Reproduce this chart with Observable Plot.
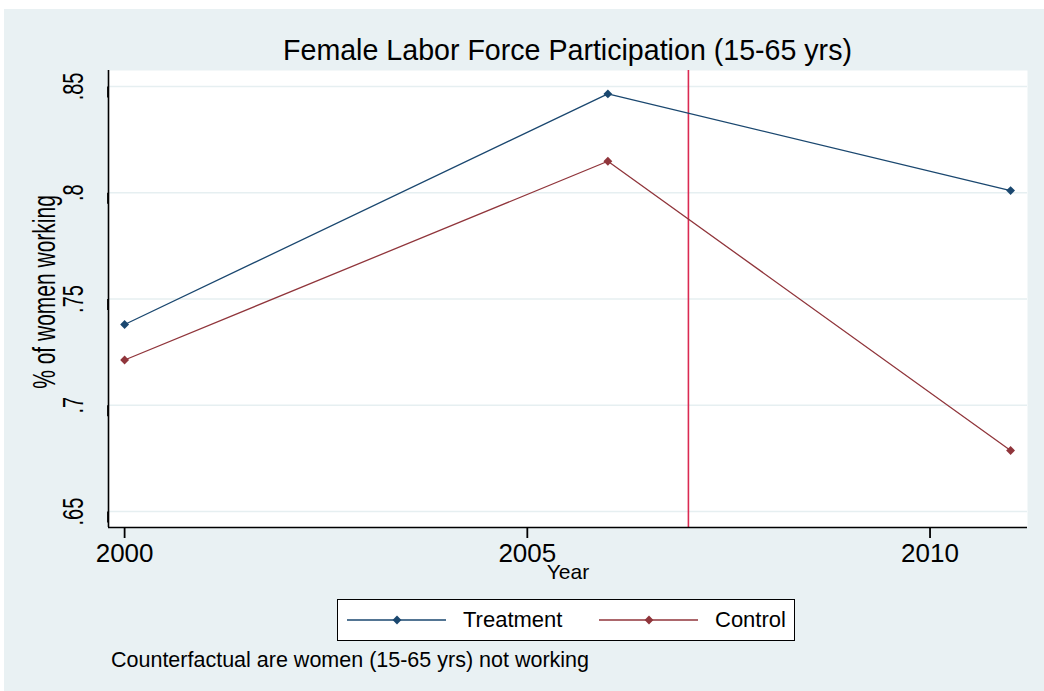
<!DOCTYPE html>
<html>
<head>
<meta charset="utf-8">
<script src="https://cdn.jsdelivr.net/npm/d3@7"></script>
<script src="https://cdn.jsdelivr.net/npm/@observablehq/plot@0.6"></script>
<style>
  body { margin: 0; background: #fff; font-family: "Liberation Sans", Arial, sans-serif; }
  #wrap { position: relative; width: 1044px; height: 691px; overflow: hidden; }
  #bg { position: absolute; left: 4px; top: 9px; right: 0; bottom: 0; background: #e9f1f3; }
  #chart { position: absolute; left: 0; top: 0; }
  .txt { position: absolute; line-height: 1; white-space: nowrap; color: #000; }
  #legendBox { position: absolute; left: 337px; top: 599px; width: 456px; height: 40px; border: 1.5px solid #000; background: #fff; }
</style>
</head>
<body>
<div id="wrap">
  <div id="bg"></div>
  <div id="chart"></div>
  <div id="title" class="txt"></div>
  <div id="legendBox"></div>
  <div id="caption" class="txt"></div>
</div>
<script>
// ---- data ----
const title = "Female Labor Force Participation (15-65 yrs)";
const caption = "Counterfactual are women (15-65 yrs) not working";
const yLabel = "% of women working";
const xLabel = "Year";
const years = [2000, 2006, 2011];
const treatment = [0.738, 0.8465, 0.801];
const control = [0.7213, 0.8148, 0.6787];
const seriesNames = ["Treatment", "Control"];
const seriesColors = ["#1a476f", "#90353b"];
const policyYear = 2007;
const xTicks = [2000, 2005, 2010];
const yTicks = [0.65, 0.7, 0.75, 0.8, 0.85];
const yTickLabels = [".65", ".7", ".75", ".8", ".85"];
const xDomain = [1999.8, 2011.21];
const yDomain = [0.6425, 0.8575];

const data = years.flatMap((yr, i) => [
  {year: yr, value: treatment[i], series: seriesNames[0]},
  {year: yr, value: control[i], series: seriesNames[1]}
]);

const font = "Liberation Sans, Arial, sans-serif";
const plot = Plot.plot({
  width: 1044, height: 691,
  marginTop: 70, marginBottom: 164, marginLeft: 108, marginRight: 17,
  style: {background: "transparent", fontFamily: font, color: "#000", overflow: "visible"},
  x: {domain: xDomain},
  y: {domain: yDomain},
  color: {domain: seriesNames, range: seriesColors},
  marks: [
    Plot.frame({fill: "#fff", stroke: null}),
    Plot.gridY(yTicks, {stroke: "#e6eff1", strokeOpacity: 1, strokeWidth: 1.5}),
    Plot.ruleX([policyYear], {stroke: "#da2a52", strokeWidth: 1.6}),
    Plot.line(data, {x: "year", y: "value", z: "series", stroke: "series", strokeWidth: 1.3}),
    Plot.dot(data, {x: "year", y: "value", fill: "series", symbol: "diamond2", r: 4, stroke: null}),
    Plot.ruleX([xDomain[0]], {stroke: "#000", strokeWidth: 1.6}),
    Plot.ruleY([yDomain[0]], {stroke: "#000", strokeWidth: 1.6}),
    Plot.axisY({ticks: yTicks, tickFormat: d => yTickLabels[yTicks.indexOf(d)], tickSize: 11, tickPadding: 24,
      rotate: -90, textAnchor: "middle", fontSize: 20, label: null, stroke: "#000", strokeWidth: 1.8}),
    Plot.axisX({ticks: xTicks, tickFormat: d => String(d), tickSize: 11, tickPadding: 5,
      fontSize: 26, label: null, stroke: "#000", strokeWidth: 1.8}),
    Plot.text([yLabel], {text: d => d, frameAnchor: "left", rotate: -90, textAnchor: "middle", lineAnchor: "middle",
      dx: -63, dy: -7, fontSize: 21, fill: "#000"}),
    Plot.text([xLabel], {text: d => d, frameAnchor: "bottom", lineAnchor: "middle", dy: 45, fontSize: 21, fill: "#000"})
  ]
});
// rotated labels in the reference are drawn taller across the glyph height
d3.select(plot).selectAll("text").each(function() {
  const tr = this.getAttribute("transform");
  if (tr && tr.includes("rotate(-90)")) this.setAttribute("transform", tr + " scale(1,1.45)");
});
document.getElementById("chart").appendChild(plot);

// title
const t = document.getElementById("title");
t.textContent = title;
t.style.fontSize = "28.6px";
t.style.top = (60.7 - 0.8465 * 28.6) + "px";
t.style.left = "0px"; t.style.width = "1135px"; t.style.textAlign = "center";

// caption
const c = document.getElementById("caption");
c.textContent = caption;
c.style.fontSize = "21.5px";
c.style.left = "111px";
c.style.top = (668 - 0.8465 * 21.5) + "px";

// legend
const wrap = document.getElementById("wrap");
const symLeft = [347, 599], txtLeft = [463, 715];
seriesNames.forEach((name, i) => {
  const s = d3.create("svg").attr("width", 100).attr("height", 12)
    .style("position", "absolute").style("left", symLeft[i] + "px").style("top", "614px");
  s.append("line").attr("x1", 0).attr("x2", 99).attr("y1", 6).attr("y2", 6)
    .attr("stroke", seriesColors[i]).attr("stroke-width", 1.3);
  s.append("path").attr("d", d3.symbol(d3.symbolDiamond2, 50)()).attr("transform", "translate(50,6)")
    .attr("fill", seriesColors[i]);
  wrap.appendChild(s.node());
  const l = document.createElement("div");
  l.className = "txt";
  l.textContent = name;
  l.style.fontSize = "22px";
  l.style.left = txtLeft[i] + "px";
  l.style.top = (628 - 0.8465 * 22) + "px";
  wrap.appendChild(l);
});
</script>
</body>
</html>
